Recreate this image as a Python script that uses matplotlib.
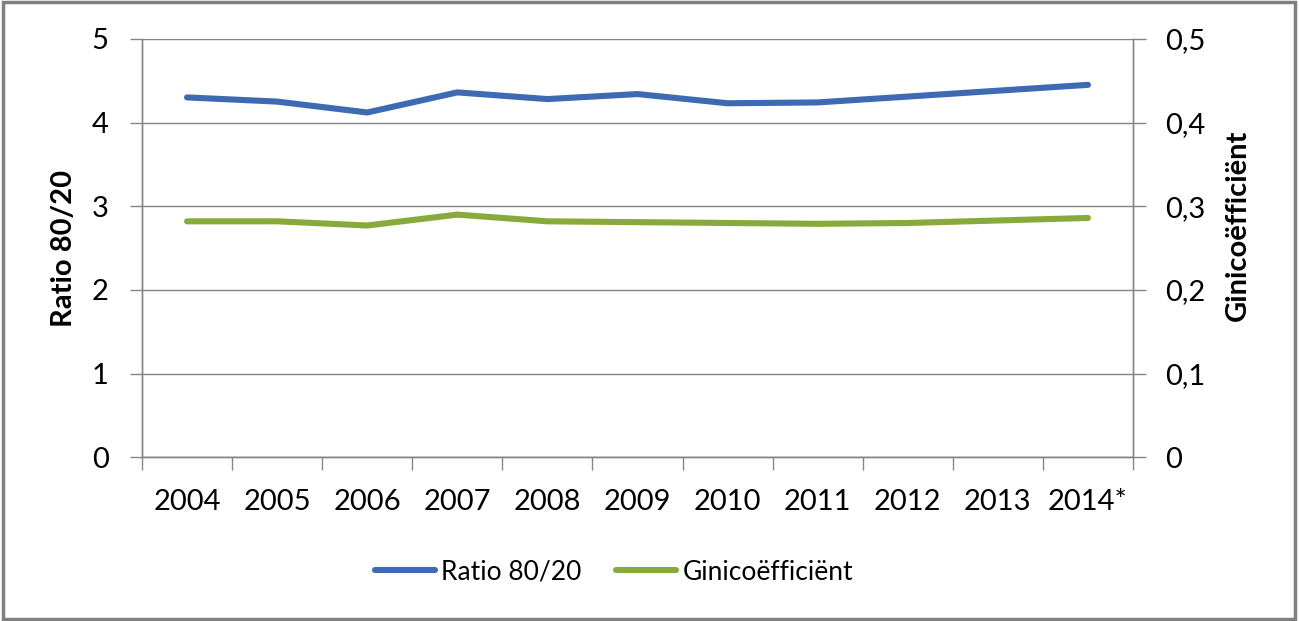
import matplotlib
matplotlib.use("Agg")
import matplotlib.pyplot as plt
from matplotlib.patches import Rectangle

plt.rcParams['font.family'] = ['Lato', 'DejaVu Sans']

years = ["2004", "2005", "2006", "2007", "2008", "2009", "2010", "2011", "2012", "2013", "2014*"]
ratio_8020 = [4.30, 4.25, 4.12, 4.36, 4.28, 4.34, 4.23, 4.24, 4.31, 4.38, 4.45]
gini = [0.282, 0.282, 0.277, 0.290, 0.282, 0.281, 0.280, 0.279, 0.280, 0.283, 0.286]
left_ticks = [0, 1, 2, 3, 4, 5]
right_ticks = [0, 0.1, 0.2, 0.3, 0.4, 0.5]
right_labels = ["0", "0,1", "0,2", "0,3", "0,4", "0,5"]

blue = "#3D6AB2"
green = "#88AA3C"
grid_c = "#868686"

W, H = 1299, 621
fig = plt.figure(figsize=(W / 100, H / 100), dpi=100)
ax = fig.add_axes([142 / W, 1 - 457.4 / H, (1133 - 142) / W, (457.4 - 38.8) / H])
ax2 = ax.twinx()

x = list(range(len(years)))
ax.plot(x, ratio_8020, color=blue, lw=4.4, solid_capstyle='round', label="Ratio 80/20", zorder=3)
ax2.plot(x, gini, color=green, lw=4.4, solid_capstyle='round', label="Ginicoëfficiënt", zorder=3)

ax.set_xlim(-0.5, len(years) - 0.5)
ax.set_ylim(0, 5)
ax2.set_ylim(0, 0.5)
ax.set_yticks(left_ticks)
ax.set_yticklabels([str(t) for t in left_ticks])
ax2.set_yticks(right_ticks)
ax2.set_yticklabels(right_labels)

ax.set_xticks(x)
ax.set_xticklabels(years)
ax.set_xticks([i - 0.5 for i in range(len(years) + 1)], minor=True)
ax.tick_params(axis='x', which='major', length=0, pad=23, labelsize=21)
ax.tick_params(axis='x', which='minor', length=9, color=grid_c, width=1)
ax.tick_params(axis='y', length=9, color=grid_c, width=1, labelsize=21, pad=15)
ax2.tick_params(axis='y', length=9, color=grid_c, width=1, labelsize=21, pad=14)

ax.yaxis.grid(True, color=grid_c, lw=1)
ax.set_axisbelow(True)
for a in (ax, ax2):
    a.spines['top'].set_visible(False)
    for s in ['left', 'right', 'bottom']:
        a.spines[s].set_color(grid_c)
        a.spines[s].set_linewidth(1)

ax.set_ylabel("Ratio 80/20", fontsize=21, fontweight='bold')
ax.yaxis.set_label_coords(-0.0656, 0.5)
ax2.set_ylabel("Ginicoëfficiënt", fontsize=21, fontweight='bold')
ax2.yaxis.set_label_coords(1.0929, 0.554)

h1, l1 = ax.get_legend_handles_labels()
h2, l2 = ax2.get_legend_handles_labels()
fig.legend(h1 + h2, l1 + l2, loc='center', bbox_to_anchor=(614 / W, 1 - 572 / H),
           ncol=2, frameon=False, fontsize=19, handlelength=2.27, handletextpad=0.25,
           columnspacing=1.3)

fig.patches.append(Rectangle((0.002, 0.003), 0.995, 0.994, transform=fig.transFigure,
                             fill=False, edgecolor="#808080", lw=2.5))

fig.savefig("out.png", dpi=100, facecolor="white")
